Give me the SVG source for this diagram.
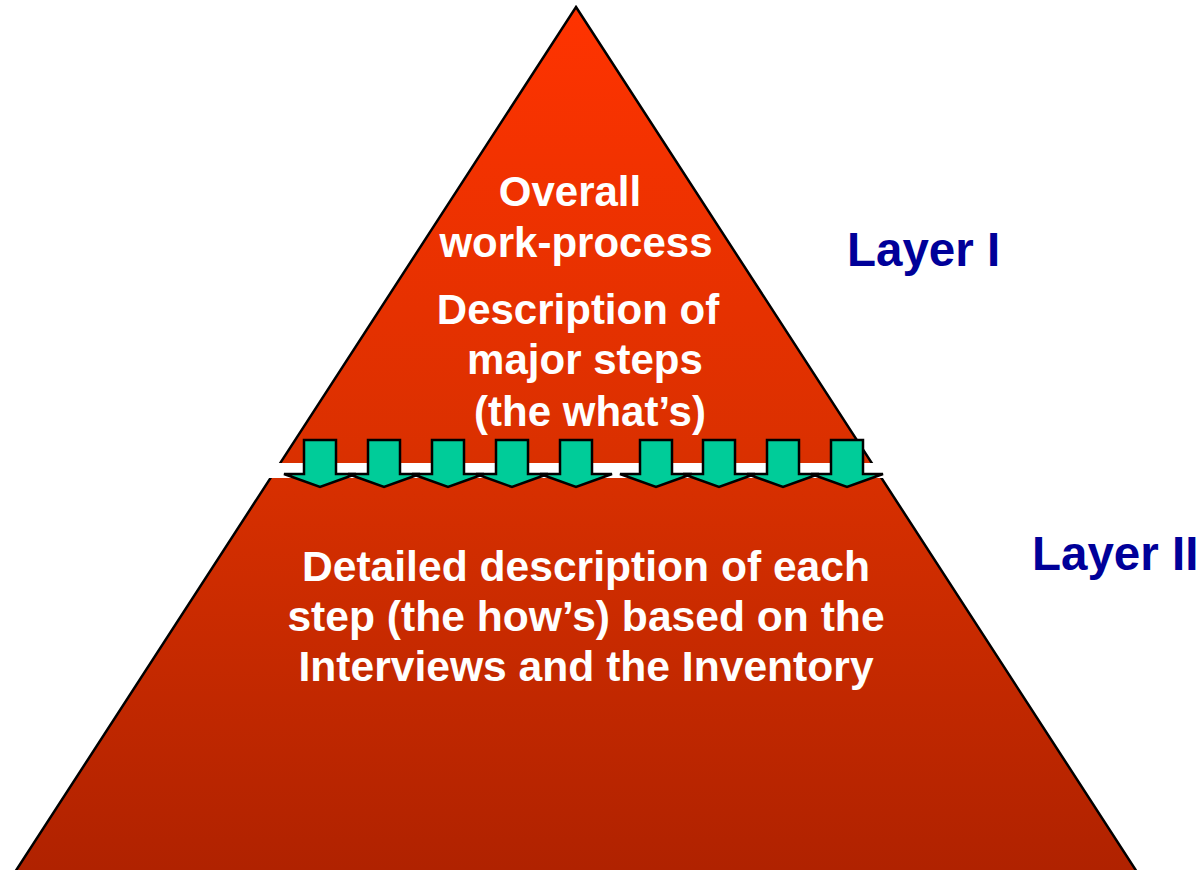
<svg xmlns="http://www.w3.org/2000/svg" width="1197" height="870" viewBox="0 0 1197 870">
<defs>
<linearGradient id="g" x1="0" y1="7" x2="0" y2="870" gradientUnits="userSpaceOnUse">
<stop offset="0" stop-color="#FF3300"/>
<stop offset="0.53" stop-color="#D93000"/>
<stop offset="1" stop-color="#B02200"/>
</linearGradient>
<path id="arr" d="M-16,440 H16 V474 H36 L0,487 L-36,474 H-16 Z"/>
<style>
.pyr{fill:url(#g);stroke:#000;stroke-width:2.5;stroke-linejoin:miter}
.arrow{fill:#00CC99;stroke:#000;stroke-width:2.5;stroke-linejoin:miter}
.t{font-family:"Liberation Sans",Arial,sans-serif;font-weight:bold;font-size:42px;fill:#fff;text-anchor:middle}
.t2{font-size:42.6px}
.lbl{font-family:"Liberation Sans",Arial,sans-serif;font-weight:bold;font-size:47.5px;fill:#000099}
</style>
</defs>
<rect width="1197" height="870" fill="#fff"/>
<g id="pyramid">
<polygon class="pyr" points="576,7 1137,872 15,872"/>
<rect x="268" y="463" width="620" height="15" fill="#fff"/>
</g>
<g id="connectors">
<use href="#arr" class="arrow" x="320"/>
<use href="#arr" class="arrow" x="384"/>
<use href="#arr" class="arrow" x="448"/>
<use href="#arr" class="arrow" x="512"/>
<use href="#arr" class="arrow" x="576"/>
<use href="#arr" class="arrow" x="656"/>
<use href="#arr" class="arrow" x="719"/>
<use href="#arr" class="arrow" x="783"/>
<use href="#arr" class="arrow" x="847"/>
</g>
<g id="layer1-text">
<text class="t" x="570" y="206">Overall</text>
<text class="t" x="576" y="257">work-process</text>
<text class="t" x="578" y="324">Description of</text>
<text class="t" x="585" y="374">major steps</text>
<text class="t" x="590" y="426">(the what’s)</text>
</g>
<g id="layer2-text">
<text class="t t2" x="586" y="581">Detailed description of each</text>
<text class="t t2" x="586" y="631">step (the how’s) based on the</text>
<text class="t t2" x="586" y="681">Interviews and the Inventory</text>
</g>
<g id="layer1-label"><text class="lbl" x="847" y="266">Layer I</text></g>
<g id="layer2-label"><text class="lbl" x="1032" y="570">Layer II</text></g>
</svg>
